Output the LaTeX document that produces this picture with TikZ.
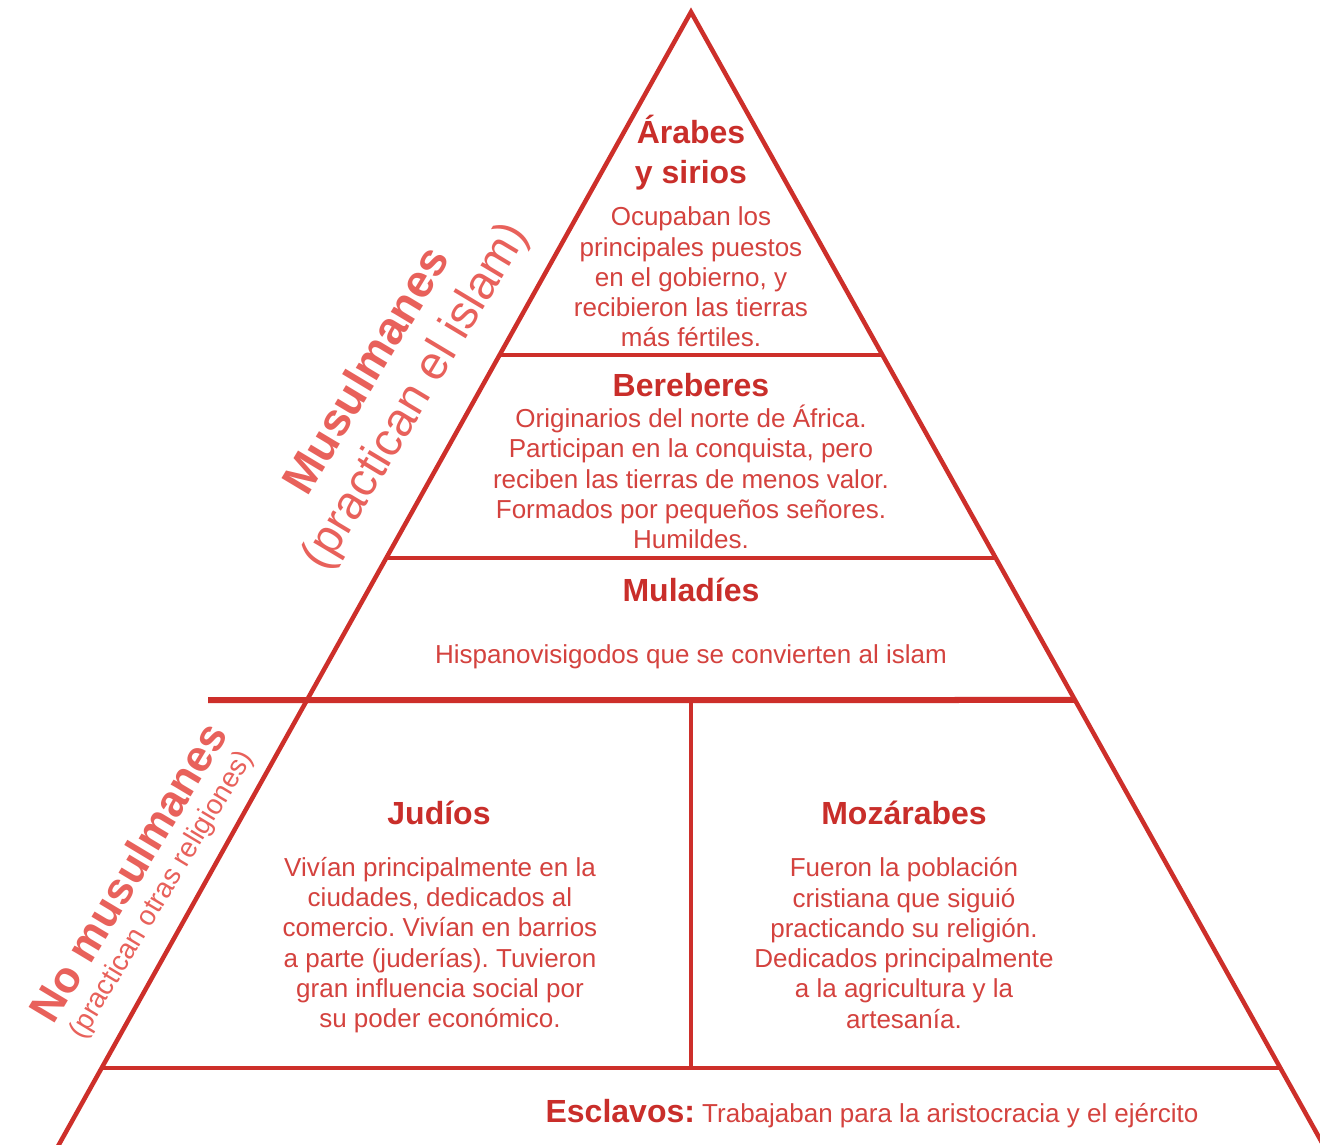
\documentclass[tikz,border=0pt]{standalone}
\usepackage{fontspec}
\setmainfont{Liberation Sans}
\usetikzlibrary{calc}
\definecolor{linered}{HTML}{CD2F2A}
\definecolor{titlered}{HTML}{C92E2A}
\definecolor{bodyred}{HTML}{D4423E}
\definecolor{labelred}{HTML}{E8615B}
\frenchspacing
\begin{document}
\begin{tikzpicture}[x=1pt,y=-1pt,
  ln/.style={draw=linered, line width=4.5pt},
  body/.style={text=bodyred, font=\frenchspacing\fontsize{26}{30.3}\selectfont, align=center, inner sep=0pt},
  ttl/.style={text=titlered, font=\bfseries\fontsize{32}{40}\selectfont, align=center, inner sep=0pt},
  lbl/.style={text=labelred, inner sep=0pt, rotate=59}]
\fill[white] (0,0) rectangle (1320,1144);
\useasboundingbox (0,0) rectangle (1320,1144);
\clip (0,0) rectangle (1320,1144);
% pyramid outline
\coordinate (apex) at (691,12);
\coordinate (bl) at (57,1148);
\coordinate (br) at (1325,1148);
\draw[ln, line join=miter] (bl) -- (apex) -- (br);
% tier edges
\coordinate (l1) at ($(apex)!{(355-12)/1136}!(bl)$);
\coordinate (r1) at ($(apex)!{(355-12)/1136}!(br)$);
\coordinate (l2) at ($(apex)!{(558-12)/1136}!(bl)$);
\coordinate (r2) at ($(apex)!{(558-12)/1136}!(br)$);
\coordinate (r3) at ($(apex)!{(700-12)/1136}!(br)$);
\coordinate (l4) at ($(apex)!{(1068-12)/1136}!(bl)$);
\coordinate (r4) at ($(apex)!{(1068-12)/1136}!(br)$);
\coordinate (ext) at (208,700);
\coordinate (vtop) at (691,700);
\coordinate (vbot) at (691,1066);
\draw[ln] (l1) -- (r1);
\draw[ln] (l2) -- (r2);
\draw[ln, line width=6pt] (ext) -- (r3);
\draw[ln] (l4) -- (r4);
\draw[ln] (vtop) -- (vbot);
% texts
\node[ttl] (t1) at (691,153) {Árabes\\y sirios};
\node[body] (b1) at (691,277) {Ocupaban los\\principales puestos\\en el gobierno, y\\recibieron las tierras\\más fértiles.};
\node[ttl] (t2) at (691,385) {Bereberes};
\node[body] (b2) at (691,477) {Originarios del norte de África.\\Participan en la conquista, pero\\reciben las tierras de menos valor.\\Formados por pequeños señores.\\Humildes.};
\node[ttl] (t3) at (691,590) {Muladíes};
\node[body] (b3) at (691,657) {Hispanovisigodos que se convierten al islam};
\node[ttl] (t4) at (439,813) {Judíos};
\node[body] (b4) at (440,945) {Vivían principalmente en la\\ciudades, dedicados al\\comercio. Vivían en barrios\\a parte (juderías). Tuvieron\\gran influencia social por\\su poder económico.};
\node[ttl] (t5) at (904,813) {Mozárabes};
\node[body] (b5) at (904,943) {Fueron la población\\cristiana que siguió\\practicando su religión.\\Dedicados principalmente\\a la agricultura y la\\artesanía.};
\node[body, anchor=base] (t6) at (872,1122) {{\color{titlered}\bfseries\fontsize{32}{40}\selectfont Esclavos:} Trabajaban para la aristocracia y el ejército};
% side labels
\node[lbl, font=\bfseries\fontsize{46}{50}\selectfont] (m1) at (365,370) {Musulmanes};
\node[lbl, font=\fontsize{47}{50}\selectfont] (m2) at (417,397) {(practican el islam)};
\node[lbl, font=\bfseries\fontsize{44}{50}\selectfont] (n1) at (128,872) {No musulmanes};
\node[lbl, font=\fontsize{28}{32}\selectfont] (n2) at (162,895) {(practican otras religiones)};
\end{tikzpicture}
\end{document}
